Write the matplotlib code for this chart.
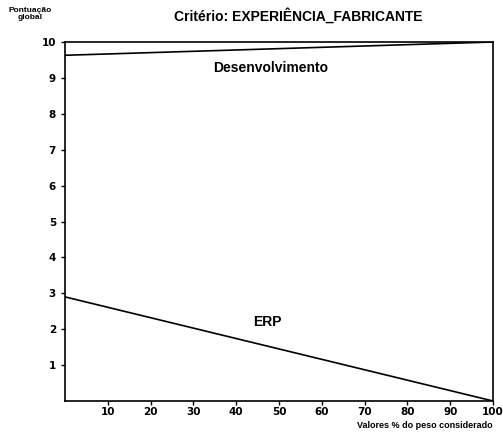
import matplotlib
matplotlib.use("Agg")
import matplotlib.pyplot as plt

x_vals = [0, 100]
desenvolvimento = [9.63, 10.0]
erp = [2.9, 0.0]
x_ticks = [10, 20, 30, 40, 50, 60, 70, 80, 90, 100]
y_ticks = [1, 2, 3, 4, 5, 6, 7, 8, 9, 10]

plt.rcParams['font.family'] = ['Liberation Sans Narrow', 'DejaVu Sans']

fig = plt.figure(figsize=(5.03, 4.33), dpi=100)
ax = fig.add_axes([65/503, 1-401/433, (493-65)/503, (401-42)/433])

ax.plot(x_vals, desenvolvimento, color='black', lw=1.2)
ax.plot(x_vals, erp, color='black', lw=1.2)

ax.set_xlim(0, 100)
ax.set_ylim(0, 10)
ax.set_xticks(x_ticks)
ax.set_yticks(y_ticks)
ax.tick_params(axis='both', direction='out', length=3, width=1, labelsize=7.5)
ax.tick_params(axis='x', pad=1.5)
for lab in ax.get_xticklabels() + ax.get_yticklabels():
    lab.set_fontweight('bold')
for s in ax.spines.values():
    s.set_linewidth(1.2)

ax.text(0.346, 0.928, 'Desenvolvimento', transform=ax.transAxes, fontsize=10,
        fontweight='bold', va='center', family=['Liberation Sans', 'DejaVu Sans'])
ax.text(43.9, 2.2, 'ERP', fontsize=10, fontweight='bold', va='center',
        family=['Liberation Sans', 'DejaVu Sans'])

fig.text(298/503, 1-16/433, 'Critério: EXPERIÊNCIA_FABRICANTE', ha='center', va='center',
         fontsize=10, fontweight='bold', family=['Liberation Sans', 'DejaVu Sans'])
fig.text(30/503, 1-14/433, 'Pontuação\nglobal', ha='center', va='center',
         fontsize=6, fontweight='bold', linespacing=1.0, family=['Liberation Sans', 'DejaVu Sans'])
fig.text(493/503, 1-426/433, 'Valores % do peso considerado', ha='right', va='center',
         fontsize=6.5, fontweight='bold', family=['Liberation Sans', 'DejaVu Sans'])

fig.savefig('out.png', dpi=100)
